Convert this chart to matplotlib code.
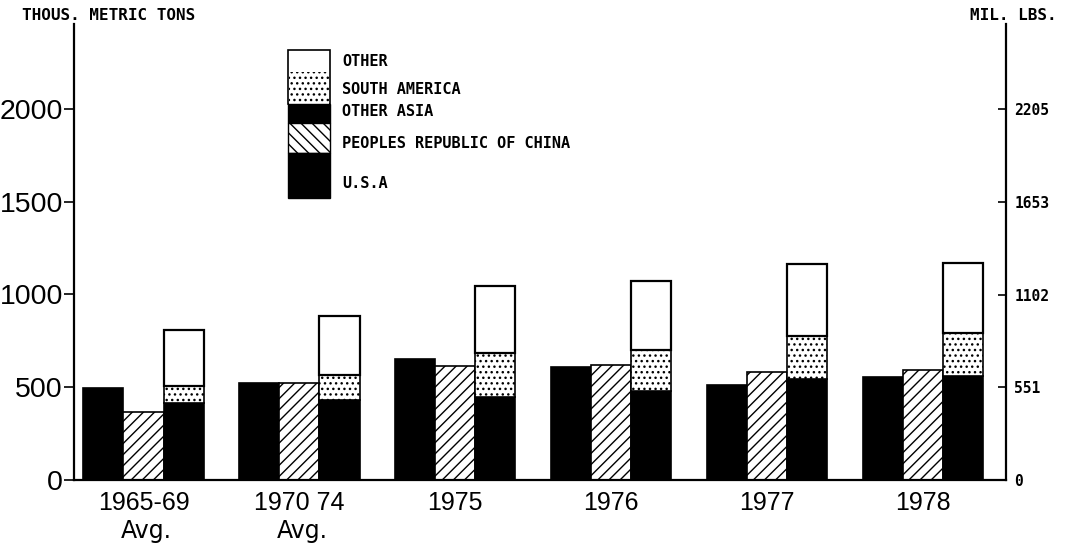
import matplotlib
matplotlib.use("Agg")
import matplotlib.pyplot as plt
from matplotlib.patches import Rectangle
from matplotlib.transforms import blended_transform_factory
import numpy as np

# ---- data (thousand metric tons) ----
categories = ["1965-69", "1970 74", "1975", "1976", "1977", "1978"]
sublabels = ["Avg.", "Avg.", "", "", "", ""]
usa = [495, 525, 650, 607, 510, 555]
china = [365, 521, 614, 618, 584, 593]
other_asia = [413, 431, 446, 480, 543, 561]
south_america = [94, 135, 237, 221, 233, 233]
other = [302, 320, 364, 372, 387, 374]
left_ticks = [0, 500, 1000, 1500, 2000]
right_ticks = [0, 551, 1102, 1653, 2205]
legend_labels = ["OTHER", "SOUTH AMERICA", "OTHER ASIA",
                 "PEOPLES REPUBLIC OF CHINA", "U.S.A"]

W, H = 1068, 548
plt.rcParams['hatch.linewidth'] = 1.0
fig = plt.figure(figsize=(W / 100, H / 100), dpi=100)
ax = fig.add_axes([74 / W, 1 - 480 / H, (1006 - 74) / W, (480 - 24) / H])

x = np.arange(len(categories))
w = 0.257
bar_lw = 1.2
ax.bar(x - w, usa, w, color="black", edgecolor="black", linewidth=bar_lw)
ax.bar(x, china, w, color="white", edgecolor="black", hatch="///", linewidth=bar_lw)
ax.bar(x + w, other_asia, w, color="black", edgecolor="black", linewidth=bar_lw)
b1 = np.array(other_asia)
ax.bar(x + w, south_america, w, bottom=b1, color="white", edgecolor="black",
       hatch="...", linewidth=bar_lw)
b2 = b1 + np.array(south_america)
ax.bar(x + w, other, w, bottom=b2, color="white", edgecolor="black",
       linewidth=1.6)

ax.set_xlim(-0.446, 5.532)
ax.set_ylim(0, 2458)

for s in ["top", "right"]:
    ax.spines[s].set_visible(False)
ax.spines["left"].set_linewidth(1.6)
ax.spines["bottom"].set_linewidth(1.6)

ax.set_yticks(left_ticks)
ax.set_yticklabels([str(v) for v in left_ticks], fontsize=20.5,
                   family="Liberation Sans")
ax.tick_params(axis="y", direction="out", length=7, width=1.2, pad=1)

ax.set_xticks(x)
ax.set_xticklabels(categories, fontsize=18, family="Liberation Sans")
ax.tick_params(axis="x", length=0, pad=8)

trans = blended_transform_factory(ax.transData, ax.transAxes)
for xi, s in zip(x, sublabels):
    if s:
        ax.text(xi + 0.02, -0.112, s, transform=trans, ha="center", va="center",
                fontsize=17, family="DejaVu Sans")

# right axis
ax2 = ax.twinx()
ax2.set_ylim(0, 2458 * 2205 / 2000)
for s in ["top", "left", "bottom"]:
    ax2.spines[s].set_visible(False)
ax2.spines["right"].set_linewidth(1.6)
ax2.set_yticks(right_ticks)
ax2.set_yticklabels([str(v) for v in right_ticks], fontsize=10.5,
                    family="DejaVu Sans Mono", fontweight="bold")
ax2.tick_params(axis="y", direction="in", length=6, width=1.2, pad=6)

# axis titles
mono = dict(family="DejaVu Sans Mono", fontweight="bold")
fig.text(22 / W, 1 - 15 / H, "THOUS. METRIC TONS", ha="left", va="center",
         fontsize=11.5, **mono)
fig.text(1057 / W, 1 - 15 / H, "MIL. LBS.", ha="right", va="center",
         fontsize=11.5, **mono)

# legend drawn manually
def frect(x0, y0, x1, y1, **kw):
    r = Rectangle((x0 / W, 1 - y1 / H), (x1 - x0) / W, (y1 - y0) / H,
                  transform=fig.transFigure, **kw)
    fig.add_artist(r)

lx0, lx1 = 288, 330
frect(lx0, 50, lx1, 104, facecolor="white", edgecolor="black", linewidth=1.2)
frect(lx0 + 1, 72, lx1 - 1, 104, facecolor="white", edgecolor="black",
      hatch="...", linewidth=0)
frect(lx0, 104, lx1, 123, facecolor="black", edgecolor="black", linewidth=1)
frect(lx0, 123, lx1, 153, facecolor="white", edgecolor="black",
      hatch="\\\\\\", linewidth=1)
frect(lx0, 153, lx1, 198, facecolor="black", edgecolor="black", linewidth=1)

label_y = [62, 90, 112, 143, 183]
for lab, yy in zip(legend_labels, label_y):
    fig.text(342 / W, 1 - yy / H, lab, ha="left", va="center",
             fontsize=11, **mono)

fig.savefig("out.png", dpi=100)
